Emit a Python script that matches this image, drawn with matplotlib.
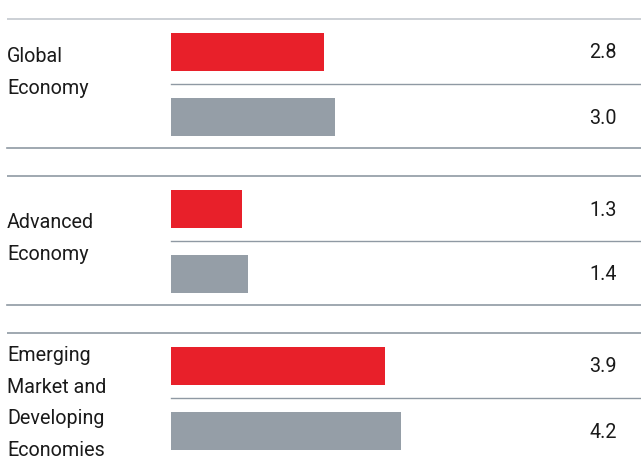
import matplotlib
matplotlib.use("Agg")
import matplotlib.pyplot as plt

# Growth projections (percent)
groups = ["Global\nEconomy", "Advanced\nEconomy", "Emerging\nMarket and\nDeveloping\nEconomies"]
first_values = [2.8, 1.3, 3.9]
second_values = [3.0, 1.4, 4.2]
value_labels_first = ["2.8", "1.3", "3.9"]
value_labels_second = ["3.0", "1.4", "4.2"]

RED = "#E8202A"
GRAY = "#959EA7"
RULE = "#8F99A3"
RULE_LIGHT = "#C3C8CE"
TEXT = "#1A1A1A"

W, H = 641, 458
fig = plt.figure(figsize=(W / 100, H / 100), dpi=100)
ax = fig.add_axes([0, 0, 1, 1])

px_per_unit = 54.8
x0_px = 171
ax.set_xlim(-x0_px / px_per_unit, (W - x0_px) / px_per_unit)
ax.set_ylim(H, 0)
ax.axis("off")

def px_to_x(px):
    return (px - x0_px) / px_per_unit

group_step = 157
group_top = 19
bar_h = 38
first_off = 14
second_off = 79
label_offsets = [37.5, 46, 22]
font = "Roboto"
fs = 14.2

for i, name in enumerate(groups):
    top = group_top + i * group_step
    # rules
    ax.plot([px_to_x(7), px_to_x(W)], [top, top],
            color=RULE_LIGHT if i == 0 else RULE, lw=1.2, solid_capstyle="butt")
    ax.plot([0, px_to_x(W)], [top + 65, top + 65], color=RULE, lw=1.0)
    ax.plot([px_to_x(7), px_to_x(W)], [top + 129, top + 129], color=RULE, lw=1.2)
    # bars
    y1 = top + first_off + bar_h / 2
    y2 = top + second_off + bar_h / 2
    ax.barh(y1, first_values[i], height=bar_h, left=0, color=RED, edgecolor="none")
    ax.barh(y2, second_values[i], height=bar_h, left=0, color=GRAY, edgecolor="none")
    # value labels
    ax.text(px_to_x(617), y1 + 1, value_labels_first[i],
            ha="right", va="center", fontsize=fs, family=font, color=TEXT)
    ax.text(px_to_x(617), y2 + 1, value_labels_second[i],
            ha="right", va="center", fontsize=fs, family=font, color=TEXT)
    # group label
    ax.text(px_to_x(7), top + label_offsets[i] - 9, name, ha="left", va="top",
            fontsize=fs, family=font, color=TEXT, linespacing=1.85)

fig.savefig("out.png", dpi=100)
